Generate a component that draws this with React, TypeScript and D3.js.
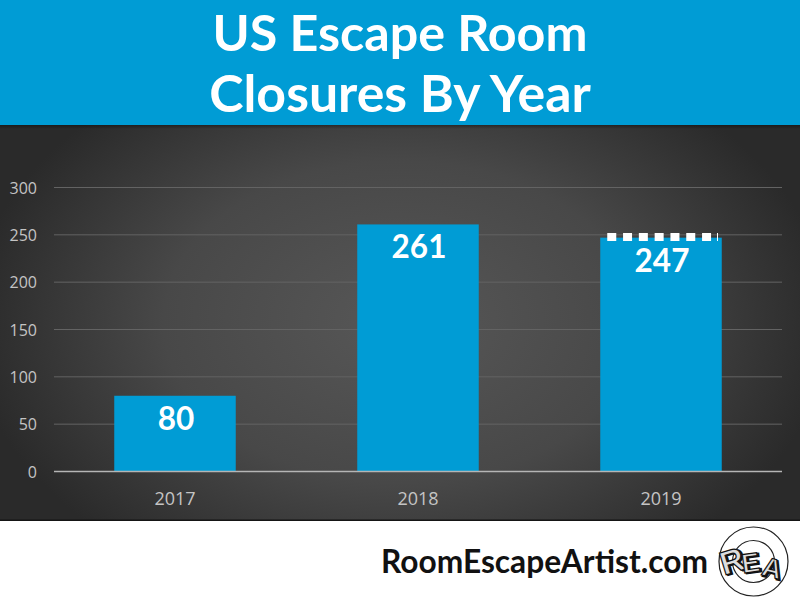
import React from "react";
import * as d3 from "d3";

const categories = ["2017", "2018", "2019"];
const closures = [80, 261, 247];
const yTicks = [0, 50, 100, 150, 200, 250, 300];
const titleLines = ["US Escape Room", "Closures By Year"];
const footerText = "RoomEscapeArtist.com";
const logoLetters = ["R", "E", "A"];
const dashSlots = [0, 1, 2, 3, 4, 5, 6];

const W = 800, H = 600;
const x = d3.scaleBand<string>().domain(categories).range([53.5, 782.5]).paddingInner(0.5).paddingOuter(0.25);
const y = d3.scaleLinear().domain([0, 300]).range([471.5, 187.5]);
const font = "Lato, 'Open Sans', sans-serif";
const titleSizes = [50.2, 51.8];

export default function App() {
  const bw = x.bandwidth();
  const x2019 = x("2019")!;
  const logoPos = [
    { x: 735.5, y: 572, r: -17, s: 33 },
    { x: 752, y: 572, r: -8, s: 27 },
    { x: 770, y: 577, r: 14, s: 27 },
  ];
  return (
    <svg width={W} height={H} viewBox={`0 0 ${W} ${H}`} style={{ position: "absolute", left: 0, top: 0, display: "block" }}>
      <defs>
        <radialGradient id="bg" gradientUnits="userSpaceOnUse" cx={400} cy={322} r={430} gradientTransform="translate(400 322) scale(1 0.68) translate(-400 -322)">
          <stop offset="0" stopColor="#575757" />
          <stop offset="0.55" stopColor="#484848" />
          <stop offset="1" stopColor="#2a2a2a" />
        </radialGradient>
        <linearGradient id="topShade" x1="0" x2="0" y1="0" y2="1">
          <stop offset="0" stopColor="#000" stopOpacity="0.35" />
          <stop offset="1" stopColor="#000" stopOpacity="0" />
        </linearGradient>
      </defs>
      <rect width={W} height={H} fill="#fff" />
      <rect width={W} height={125} fill="#009cd5" />
      {titleLines.map((t, i) => (
        <text key={t} x={400} y={51 + i * 61} textAnchor="middle" fontFamily={font} fontWeight={700} fontSize={titleSizes[i]} fill="#fff">{t}</text>
      ))}
      <rect y={125} width={W} height={396} fill="url(#bg)" />
      <rect y={125} width={W} height={4} fill="url(#topShade)" />
      <rect y={519.5} width={W} height={1.5} fill="#151515" />
      {yTicks.map((t) => (
        <g key={t}>
          {t > 0 && <line x1={54} x2={782} y1={y(t)} y2={y(t)} stroke="#636363" strokeWidth={1} />}
          <text x={37} y={y(t) + 6} textAnchor="end" fontFamily="'Open Sans', sans-serif" fontSize={16} fill="#c4c4c4">{t}</text>
        </g>
      ))}
      {categories.map((c, i) => (
        <g key={c}>
          <rect x={x(c)!} y={y(closures[i])} width={bw} height={y(0) - y(closures[i])} fill="#009cd5" />
          <text x={x(c)! + bw / 2} y={505} textAnchor="middle" fontFamily="'Open Sans', sans-serif" fontSize={18} fill="#c4c4c4">{c}</text>
          <text x={x(c)! + bw / 2 + 1} y={y(closures[i]) + 34} textAnchor="middle" fontFamily={font} fontWeight={700} fontSize={31.5} fill="#fff">{closures[i]}</text>
        </g>
      ))}
      <line x1={54} x2={782} y1={y(0)} y2={y(0)} stroke="#b5b5b5" strokeWidth={1.5} />
      {dashSlots.map((d) => (
        <rect key={d} x={x2019 + 7 + d * 15.8} y={233} width={9} height={8} fill="#fff" />
      ))}
      <rect x={717} y={233} width={1} height={8} fill="#fff" />
      <text x={544.5} y={573} textAnchor="middle" fontFamily={font} fontWeight={700} fontSize={31.7} fill="#111">{footerText}</text>
      <circle cx={753.5} cy={561.5} r={34.5} fill="#fff" stroke="#222" strokeWidth={1.2} />
      <circle cx={753.5} cy={561.5} r={21} fill="none" stroke="#222" strokeWidth={1.2} />
      {logoLetters.map((l, i) => (
        <g key={l} transform={`translate(${logoPos[i].x} ${logoPos[i].y}) rotate(${logoPos[i].r})`} fontFamily="'Liberation Sans', sans-serif" fontWeight={700} fontSize={logoPos[i].s} textAnchor="middle">
          <text x={1.5} y={1} fill="#111" stroke="#111" strokeWidth={1.5}>{l}</text>
          <text fill="#ddd" stroke="#111" strokeWidth={1.2}>{l}</text>
        </g>
      ))}
    </svg>
  );
}
